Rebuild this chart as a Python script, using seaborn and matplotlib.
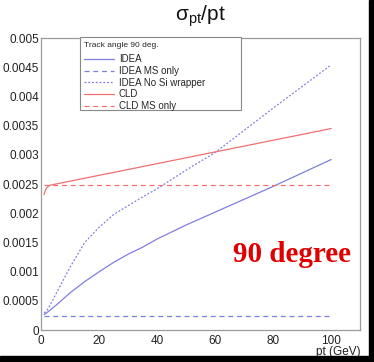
import numpy as np
import pandas as pd
import seaborn as sns
import matplotlib.pyplot as plt
from matplotlib.ticker import MultipleLocator, FormatStrFormatter
from matplotlib.patches import Rectangle
from matplotlib.lines import Line2D

# values
pt = [1, 1.5, 2, 3, 5, 10, 15, 20, 25, 30, 35, 40, 50, 60, 70, 80, 90, 100]
idea = [0.00027, 0.00028, 0.00030, 0.00034, 0.00042, 0.00064, 0.00083, 0.00100, 0.00116,
        0.00130, 0.00142, 0.00156, 0.00180, 0.00202, 0.00224, 0.00246, 0.00269, 0.00292]
idea_ms = [0.00025] * len(pt)
idea_nosi = [0.00030, 0.00031, 0.00034, 0.00042, 0.00061, 0.00108, 0.00150, 0.00176, 0.00198,
             0.00213, 0.00228, 0.00242, 0.00274, 0.00304, 0.00342, 0.00380, 0.00417, 0.00454]
cld = [0.00232, 0.00240, 0.00244, 0.00248, 0.00250, 0.00255, 0.00260, 0.00265, 0.00270,
       0.00275, 0.00280, 0.00285, 0.00295, 0.00305, 0.00315, 0.00325, 0.00335, 0.00345]
cld_ms = [0.00248] * len(pt)

series = ['IDEA', 'IDEA MS only', 'IDEA No Si wrapper', 'CLD', 'CLD MS only']
values = [idea, idea_ms, idea_nosi, cld, cld_ms]

df = pd.DataFrame({
    'pt': pt * len(series),
    'sigma': np.concatenate(values),
    'series': np.repeat(series, len(pt)),
})

blue = '#7f7fe0'
red = '#f07070'
palette = {'IDEA': blue, 'IDEA MS only': blue, 'IDEA No Si wrapper': blue,
           'CLD': red, 'CLD MS only': red}
dashes = {'IDEA': '', 'IDEA MS only': (4, 3), 'IDEA No Si wrapper': (1.5, 1.5),
          'CLD': '', 'CLD MS only': (4, 3)}

sns.set_style('white')
plt.rcParams['font.family'] = ['Liberation Sans', 'DejaVu Sans']
plt.rcParams['mathtext.default'] = 'regular'

fig = plt.figure(figsize=(3.74, 3.62), dpi=100)
ax = fig.add_axes([0.11, 0.088, 0.853, 0.807])

sns.lineplot(data=df, x='pt', y='sigma', hue='series', style='series',
             palette=palette, dashes=dashes, linewidth=0.9, ax=ax, legend=False)

ax.set_xlim(0, 110)
ax.set_ylim(0, 0.005)
ax.xaxis.set_major_locator(MultipleLocator(20))
ax.xaxis.set_minor_locator(MultipleLocator(5))
ax.yaxis.set_major_locator(MultipleLocator(0.0005))
ax.yaxis.set_minor_locator(MultipleLocator(0.0001))
ax.yaxis.set_major_formatter(FormatStrFormatter('%g'))
ax.tick_params(axis='both', which='both', direction='in', colors='#555555',
               labelcolor='#222222', labelsize=8.5, top=False, right=False)
ax.tick_params(which='major', length=7, width=0.7)
ax.tick_params(which='minor', length=3.5, width=0.6)
ax.tick_params(axis='x', pad=3.5)
ax.tick_params(axis='y', pad=1.5)
for s in ax.spines.values():
    s.set_color('#9a9a9a')
    s.set_linewidth(0.9)

ax.set_xlabel('pt (GeV)', fontsize=8.5, color='#222222', loc='right', labelpad=-1)
ax.set_ylabel('')
fig.text(0.535, 0.955, 'σ$_{pt}$/pt', ha='center', va='center',
         fontsize=15, color='#111111')

# legend (ROOT style fixed-size box)
ax.add_patch(Rectangle((0.122, 0.753), 0.505, 0.25, transform=ax.transAxes,
                       facecolor='white', edgecolor='#888888', linewidth=0.8,
                       zorder=4, clip_on=False))
handles = [Line2D([], [], color=palette[s], lw=0.9,
                  linestyle='-' if dashes[s] == '' else (0, dashes[s])) for s in series]
leg = ax.legend(handles, series, title='Track angle 90 deg.', loc='upper left',
                bbox_to_anchor=(0.122, 1.0), fontsize=7, title_fontsize=6,
                frameon=False, handlelength=3.1, borderpad=0.4, labelspacing=0.17,
                handletextpad=0.5, borderaxespad=0)
leg._legend_box.align = 'left'
leg._legend_box.sep = 4
leg.set_zorder(5)

ax.text(0.97, 0.258, '90 degree', transform=ax.transAxes, ha='right', va='center',
        fontsize=21, fontweight='bold', color='#e00000', family='Liberation Serif')

# black border strip of the original screenshot
fig.patches.append(Rectangle((369 / 374, 0), 5 / 374, 1, transform=fig.transFigure,
                             color='black', zorder=10))
fig.patches.append(Rectangle((0, 0), 1, 6 / 362, transform=fig.transFigure,
                             color='black', zorder=10))

fig.savefig('out.png', dpi=100)
